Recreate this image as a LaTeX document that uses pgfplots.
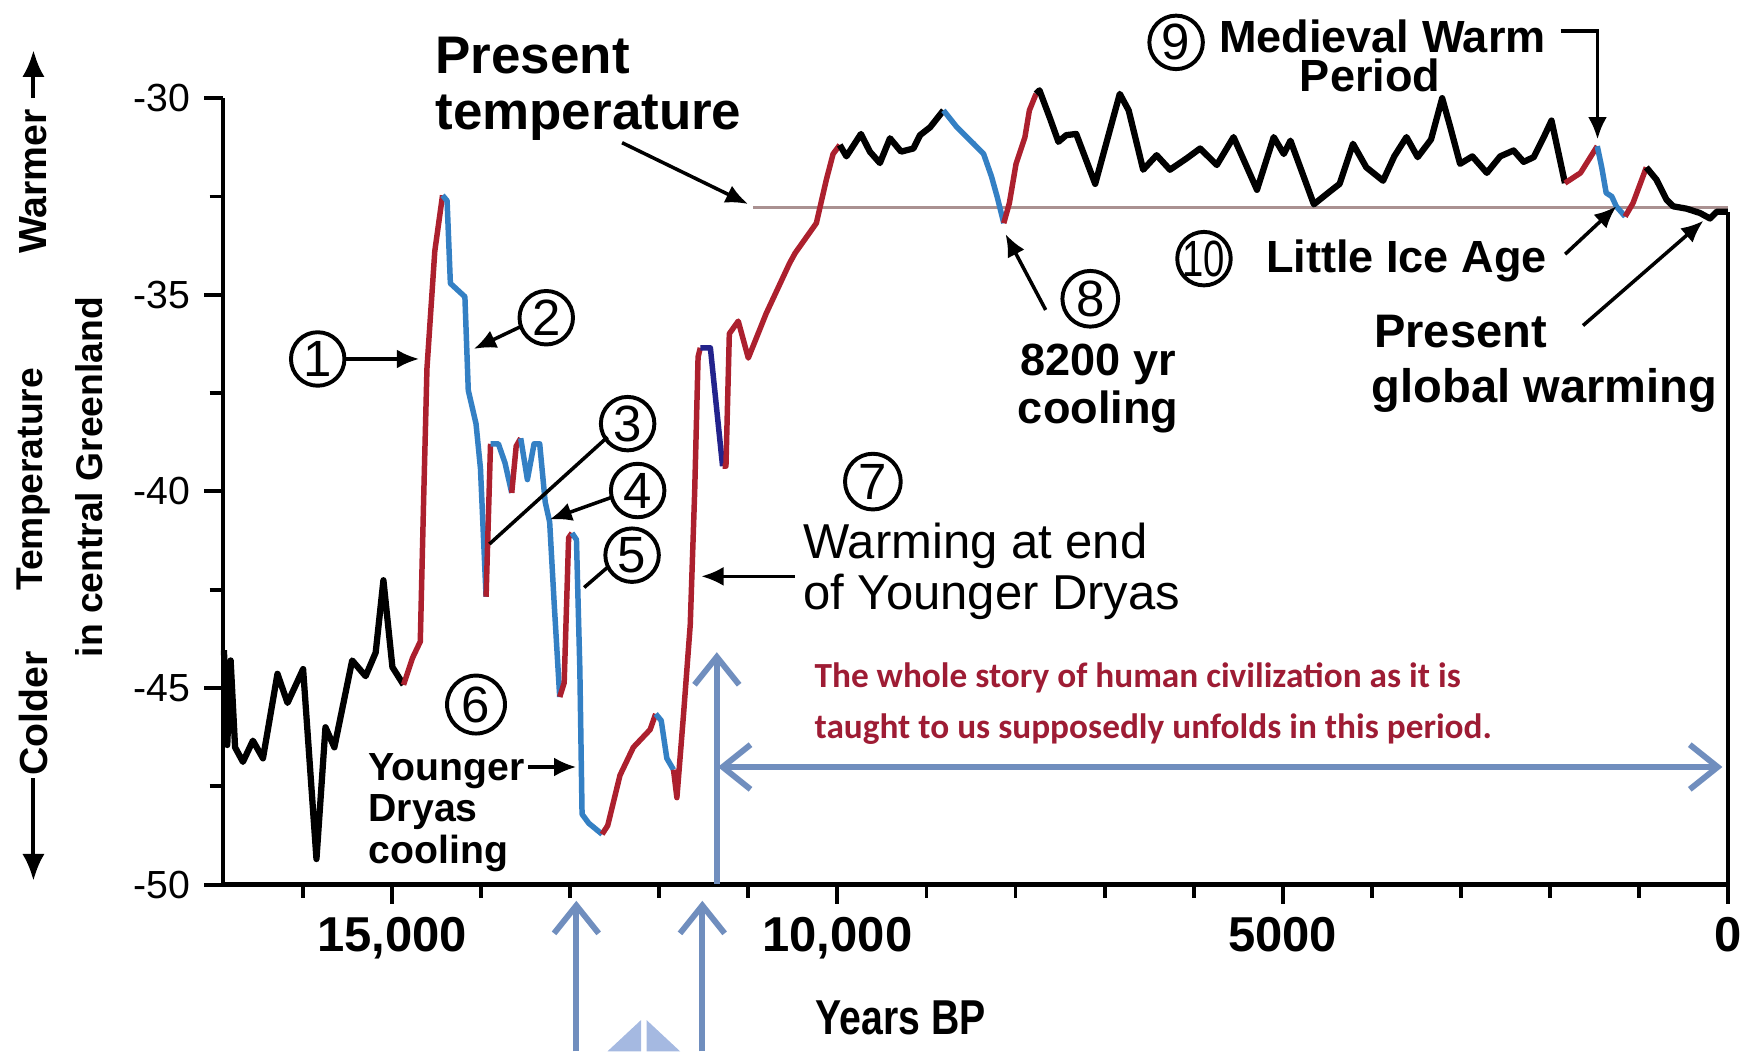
\documentclass[border=0pt]{standalone}
\usepackage{fontspec}
\setmainfont{Liberation Sans}
\newfontfamily\calibri{Carlito}
\usepackage{pgfplots}
\pgfplotsset{compat=1.18}
\usetikzlibrary{arrows.meta}
\newcommand\fs[2]{\fontsize{#1}{#2}\selectfont}
\newcommand\cn[4]{\draw[line width=1pt] (#1,#2) circle[radius=#3]; \node[inner sep=0, font=\fs{13}{13}] at (#1,#2) {#4};}
\definecolor{cred}{RGB}{172,32,46}
\definecolor{cblue}{RGB}{52,128,196}
\definecolor{cnavy}{RGB}{35,35,140}
\definecolor{ablue}{RGB}{112,142,190}
\definecolor{lblue}{RGB}{165,185,225}
\definecolor{tred}{RGB}{158,28,52}
\definecolor{ptline}{RGB}{170,145,145}
\begin{document}
\begin{tikzpicture}
\path[use as bounding box] (0,0) rectangle (15.68,-9.43);
\begin{axis}[
 at={(2cm,-7.93cm)}, anchor=south west,
 scale only axis, width=13.49cm, height=7.05cm,
 xmin=0, xmax=16900, x dir=reverse,
 ymin=-50, ymax=-30,
 clip=false,
 scaled x ticks=false, scaled y ticks=false,
 axis x line*=bottom, axis y line*=left,
 axis line style={line width=1.1pt},
 xtick={0,5000,10000,15000},
 xticklabels={0,5000,{10,000},{15,000}},
 minor xtick={1000,2000,3000,4000,6000,7000,8000,9000,11000,12000,13000,14000,16000},
 ytick={-50,-45,-40,-35,-30},
 yticklabels={-50,-45,-40,-35,-30},
 minor ytick={-47.5,-42.5,-37.5,-32.5},
 tick align=outside,
 major tick length=0.17cm, minor tick length=0.12cm,
 every tick/.style={black, line width=1pt},
 xticklabel style={font=\bfseries\fs{12.5}{12.5}},
 yticklabel style={font=\fs{10}{10}},
 every axis plot/.append style={line width=1.4pt, line join=round},
]
\draw[ptline, line width=0.8pt] (axis cs:10951,-32.78) -- (axis cs:0,-32.78);
\draw[black, line width=1.1pt] (axis cs:0,-32.89) -- (axis cs:0,-50);
\addplot[black, line width=1.6pt] coordinates {(16890,-44.04) (16853,-46.45) (16815,-44.30) (16765,-46.51) (16677,-46.88) (16565,-46.34) (16452,-46.79) (16289,-44.64) (16176,-45.38) (16001,-44.52) (15851,-49.35) (15750,-46.00) (15650,-46.51) (15450,-44.30) (15299,-44.70) (15186,-44.10) (15099,-42.26) (14998,-44.47) (14873,-44.92)};
\addplot[cred] coordinates {(14873,-44.92) (14773,-44.24) (14685,-43.82) (14648,-40.27) (14610,-36.87) (14522,-33.89) (14435,-32.47)};
\addplot[cblue] coordinates {(14435,-32.47) (14384,-32.61) (14347,-34.71) (14184,-35.05) (14146,-37.43) (14059,-38.28) (14009,-39.42) (13946,-42.68)};
\addplot[cred] coordinates {(13946,-42.68) (13896,-38.79)};
\addplot[cblue] coordinates {(13896,-38.79) (13808,-38.79) (13733,-39.28) (13658,-40.04)};
\addplot[cred] coordinates {(13658,-40.04) (13608,-38.85) (13557,-38.65)};
\addplot[cblue] coordinates {(13557,-38.65) (13482,-39.70) (13407,-38.79) (13344,-38.79) (13282,-40.27) (13232,-40.78) (13182,-42.82) (13119,-45.23)};
\addplot[cred] coordinates {(13119,-45.23) (13069,-44.87) (13019,-41.18) (12981,-41.06)};
\addplot[cblue] coordinates {(12981,-41.06) (12931,-41.23) (12893,-44.52) (12868,-48.21) (12793,-48.44) (12643,-48.72)};
\addplot[cred] coordinates {(12643,-48.72) (12580,-48.50) (12442,-47.22) (12292,-46.51) (12104,-46.06) (12041,-45.66)};
\addplot[cblue] coordinates {(12041,-45.66) (11979,-45.83) (11916,-46.79) (11841,-47.08)};
\addplot[cred] coordinates {(11841,-47.08) (11803,-47.79) (11728,-45.66) (11653,-43.39) (11603,-39.99) (11565,-36.58) (11540,-36.35)};
\addplot[cnavy] coordinates {(11540,-36.35) (11427,-36.35) (11290,-39.36)};
\addplot[cred] coordinates {(11290,-39.36) (11252,-39.36) (11214,-35.99) (11114,-35.67) (11001,-36.61) (10801,-35.48) (10538,-34.20) (10475,-33.94) (10237,-33.18) (10124,-32.07) (10049,-31.42) (9974,-31.19)};
\addplot[black, line width=1.6pt] coordinates {(9974,-31.19) (9899,-31.48) (9736,-30.91) (9636,-31.36) (9523,-31.65) (9410,-31.02) (9285,-31.36) (9147,-31.28) (9072,-30.94) (8959,-30.74) (8809,-30.31)};
\addplot[cblue] coordinates {(8809,-30.31) (8658,-30.74) (8470,-31.16) (8358,-31.42) (8270,-31.99) (8207,-32.50) (8132,-33.18)};
\addplot[cred] coordinates {(8132,-33.18) (8069,-32.67) (7994,-31.67) (7894,-30.99) (7844,-30.31) (7769,-29.89)};
\addplot[black, line width=1.6pt] coordinates {(7769,-29.89) (7731,-29.80) (7618,-30.48) (7518,-31.11) (7430,-30.94) (7318,-30.91) (7105,-32.18) (6829,-29.89) (6729,-30.31) (6566,-31.82) (6415,-31.45) (6265,-31.82) (6077,-31.53) (5927,-31.28) (5739,-31.70) (5551,-30.99) (5288,-32.33) (5100,-30.99) (4987,-31.42) (4912,-31.08) (4649,-32.70) (4473,-32.38) (4360,-32.18) (4210,-31.16) (4060,-31.76) (3872,-32.10) (3746,-31.48) (3609,-30.99) (3483,-31.50) (3333,-31.05) (3208,-30.00) (3120,-30.71) (3007,-31.67) (2869,-31.48) (2706,-31.90) (2556,-31.48) (2406,-31.33) (2293,-31.62) (2180,-31.50) (2067,-30.99) (1980,-30.57) (1829,-32.16)};
\addplot[cred] coordinates {(1829,-32.16) (1654,-31.90) (1466,-31.22)};
\addplot[cblue] coordinates {(1466,-31.22) (1416,-31.76) (1366,-32.41) (1303,-32.50) (1253,-32.75) (1153,-33.01)};
\addplot[cred] coordinates {(1153,-33.01) (1065,-32.67) (915,-31.76)};
\addplot[black, line width=1.6pt] coordinates {(915,-31.76) (802,-32.07) (689,-32.58) (614,-32.75) (464,-32.81) (313,-32.92) (200,-33.06) (125,-32.89) (0,-32.89)};
\end{axis}
\begin{scope}[x=0.01cm, y=-0.01cm]
\tikzset{ann/.style={line width=0.9pt, -{Latex[length=2mm,width=1.7mm]}}}
\node[rotate=90, font=\bfseries\fs{10}{10}, inner sep=0] at (30,163) {Warmer};
\node[rotate=90, font=\bfseries\fs{10}{10}, inner sep=0] at (30,640) {Colder};
\node[rotate=90, font=\bfseries\fs{9.5}{9.5}, inner sep=0] at (30,430) {Temperature};
\node[rotate=90, font=\bfseries\fs{9.5}{9.5}, inner sep=0] at (80,428) {in central Greenland};
\draw[line width=1pt, -{Latex[length=2.4mm,width=2mm]}] (30,88) -- (30,45);
\draw[line width=1pt, -{Latex[length=2.4mm,width=2mm]}] (30,698) -- (30,790);
\node[anchor=base, inner sep=0, font=\bfseries\fs{12.5}{12.5}] at (808,928) {\scalebox{0.8}[1]{Years BP}};
\cn{285}{322}{24}{1}
\cn{490}{285}{24}{2}
\cn{563}{380}{24}{3}
\cn{572}{440}{24}{4}
\cn{567}{498}{24}{5}
\cn{427}{632}{26}{6}
\cn{783}{432}{25}{7}
\cn{978}{268}{25}{8}
\cn{1055}{38}{24}{9}
\draw[line width=1pt] (1080,232) circle[radius=24]; \node[inner sep=0, font=\fs{13}{13}] at (1080,232) {\scalebox{0.75}[1]{10}};
\draw[ann] (310,322) -- (376,322);
\draw[ann] (467,293) -- (425,313);
\draw[line width=0.9pt] (545,392) -- (439,488);
\draw[ann] (549,446) -- (493,466);
\draw[line width=0.9pt] (546,508) -- (524,527);
\draw[ann] (474,688) -- (517,688);
\draw[ann] (713,517) -- (629,517);
\draw[ann] (558,128) -- (671,183);
\draw[ann] (938,278) -- (902,210);
\draw[line width=0.9pt, -{Latex[length=2mm,width=1.7mm]}] (1400,28) -- (1433,28) -- (1433,125);
\draw[ann] (1404,228) -- (1450,185);
\draw[ann] (1420,292) -- (1528,198);
\node[anchor=base west, inner sep=0, font=\bfseries\fs{13.5}{13.5}] at (390,66) {Present};
\node[anchor=base west, inner sep=0, font=\bfseries\fs{13.5}{13.5}] at (390,116) {temperature};
\node[anchor=base west, inner sep=0, font=\bfseries\fs{10}{10}] at (330,700) {Younger};
\node[anchor=base west, inner sep=0, font=\bfseries\fs{10}{10}] at (330,737) {Dryas};
\node[anchor=base west, inner sep=0, font=\bfseries\fs{10}{10}] at (330,775) {cooling};
\node[anchor=base west, inner sep=0, font=\fs{12.5}{12.5}] at (720,501) {Warming at end};
\node[anchor=base west, inner sep=0, font=\fs{12.5}{12.5}] at (720,547) {of Younger Dryas};
\node[anchor=base, inner sep=0, font=\bfseries\fs{11.5}{11.5}] at (985,337) {8200 yr};
\node[anchor=base, inner sep=0, font=\bfseries\fs{11.5}{11.5}] at (985,380) {cooling};
\node[anchor=base, inner sep=0, font=\bfseries\fs{11.5}{11.5}] at (1240,47) {Medieval Warm};
\node[anchor=base, inner sep=0, font=\bfseries\fs{11.5}{11.5}] at (1229,82) {Period};
\node[anchor=base west, inner sep=0, font=\bfseries\fs{11.5}{11.5}] at (1135,244) {Little Ice Age};
\node[anchor=base west, inner sep=0, font=\bfseries\fs{12}{12}] at (1232,312) {Present};
\node[anchor=base west, inner sep=0, font=\bfseries\fs{12}{12}] at (1230,361) {global warming};
\node[anchor=base west, inner sep=0, text=tred, font=\calibri\bfseries\fs{9}{9}] at (730,617) {The whole story of human civilization as it is};
\node[anchor=base west, inner sep=0, text=tred, font=\calibri\bfseries\fs{9}{9}] at (730,662) {taught to us supposedly unfolds in this period.};
\draw[ablue, line width=1.5pt, {Straight Barb[length=2.5mm,width=4mm]}-{Straight Barb[length=2.5mm,width=4mm]}] (644,688) -- (1545,688);
\draw[ablue, line width=1.5pt, -{Straight Barb[length=2.5mm,width=4mm]}] (643,793) -- (643,585);
\draw[ablue, line width=1.5pt, -{Straight Barb[length=2.5mm,width=4mm]}] (517,943) -- (517,808);
\draw[ablue, line width=1.5pt, -{Straight Barb[length=2.5mm,width=4mm]}] (630,943) -- (630,808);
\fill[lblue] (545,943) -- (575,915) -- (575,943) -- cycle;
\fill[lblue] (580,915) -- (610,943) -- (580,943) -- cycle;
\end{scope}
\end{tikzpicture}
\end{document}
